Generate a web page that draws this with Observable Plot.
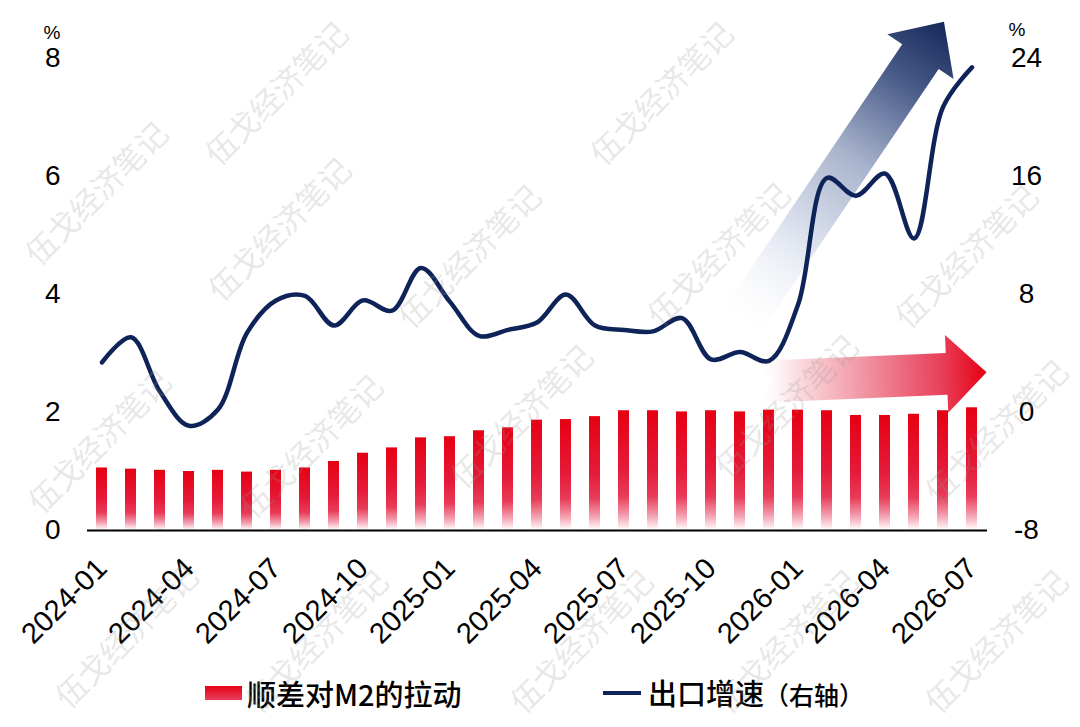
<!DOCTYPE html>
<html>
<head>
<meta charset="utf-8">
<script src="https://cdn.jsdelivr.net/npm/d3@7"></script>
<script src="https://cdn.jsdelivr.net/npm/@observablehq/plot@0.6"></script>
<style>
  html, body { margin: 0; padding: 0; background: #fff; }
  #wrap { position: relative; width: 1080px; height: 727px; overflow: hidden; background: #fff; }
  #legend { position: relative; width: 1080px; height: 62px; font-family: "Noto Sans CJK SC", sans-serif; color: #000; }
  .lg-item { position: absolute; display: flex; align-items: center; height: 40px; top: 8px; }
  .sw-bar { width: 37px; height: 14px; background: linear-gradient(#e60012, #e8405c); margin-right: 5px; }
  .sw-line { width: 38px; height: 4px; background: #0e2357; margin-right: 7px; }
  .lg-text { font-size: 29px; font-weight: 500; line-height: 40px; white-space: nowrap; }
  .lg-small { font-size: 25px; }
  #wm { position: absolute; left: 0; top: 0; width: 1080px; height: 727px; pointer-events: none; }
  .wm { position: absolute; font-family: "Noto Sans CJK SC", sans-serif; font-size: 31px; line-height: 1; color: rgba(150,150,150,0.24); white-space: nowrap; transform: translate(-50%, -50%) rotate(-45deg); }
</style>
</head>
<body>
<div id="wrap">
  <div id="chart"></div>
  <div id="legend">
    <div class="lg-item" style="left:205px"><div class="sw-bar"></div><span class="lg-text">顺差对M2的拉动</span></div>
    <div class="lg-item" style="left:603px"><div class="sw-line"></div><span class="lg-text">出口增速<span class="lg-small">（右轴）</span></span></div>
  </div>
  <div id="wm"></div>
</div>
<script>
// ---- data ----
const months = [
  "2024-01","2024-02","2024-03","2024-04","2024-05","2024-06","2024-07","2024-08","2024-09","2024-10","2024-11","2024-12",
  "2025-01","2025-02","2025-03","2025-04","2025-05","2025-06","2025-07","2025-08","2025-09","2025-10","2025-11","2025-12",
  "2026-01","2026-02","2026-03","2026-04","2026-05","2026-06","2026-07"
];
const tickLabels = ["2024-01","2024-04","2024-07","2024-10","2025-01","2025-04","2025-07","2025-10","2026-01","2026-04","2026-07"];
// 顺差对M2的拉动 (%, left axis)
const m2Pull = [1.06,1.04,1.02,1.00,1.02,0.99,1.02,1.06,1.17,1.31,1.40,1.57,1.59,1.69,1.74,1.87,1.88,1.93,2.03,2.03,2.01,2.03,2.01,2.04,2.04,2.03,1.95,1.95,1.97,2.03,2.08];
// 出口增速 (%, right axis)
const exportGrowth = [3.4,5.1,1.4,-0.9,0.2,5.4,7.6,7.9,5.9,7.6,6.9,9.8,7.5,5.2,5.6,6.1,8.0,5.9,5.6,5.5,6.4,3.6,4.1,3.5,7.3,15.9,14.7,16.2,11.8,20.7,23.4];
const leftTicks = [0, 2, 4, 6, 8];
const rightTicks = [-8, 0, 8, 16, 24];
// decorative arrows in data units: [month index, right-axis value]
const blueArrow = { from: [21.99, 5.9], to: [29.05, 26.45] };
const redArrow  = { from: [22.7, 2.05], to: [30.52, 2.7] };
const watermarkText = "伍戈经济笔记";
const watermarkAt = [[275,92],[660,92],[95,192],[278,228],[468,255],[717,253],[965,255],
                     [98,440],[310,445],[520,415],[785,405],[995,430],[125,635],[315,640],[580,640],[785,640],[995,640]];

// right axis (-8..24) mapped onto left axis (0..8)
const toLeft = v => (v + 8) / 4;

const data = months.map((m, i) => ({ month: m, pull: m2Pull[i], exp: exportGrowth[i] }));

const plot = Plot.plot({
  width: 1080,
  height: 665,
  marginLeft: 87,
  marginRight: 93,
  marginTop: 58,
  marginBottom: 135,
  style: { fontFamily: "'Liberation Sans', Arial, sans-serif", fontSize: "28px", color: "#000", background: "transparent" },
  x: { type: "band", domain: months, paddingInner: 0.62, paddingOuter: 0.3 },
  y: { domain: [0, 8] },
  marks: [
    Plot.barY(data, { x: "month", y: "pull", fill: "url(#barGrad)" }),
    Plot.ruleY([0], { stroke: "#000", strokeWidth: 2.2 }),
    Plot.line(data, { x: "month", y: d => toLeft(d.exp), stroke: "#0e2357", strokeWidth: 4.5, curve: "catmull-rom" }),
    Plot.axisY({ anchor: "left", label: null, ticks: leftTicks, tickSize: 0, tickPadding: 27, fontSize: 28, tickFormat: d => String(d) }),
    Plot.axisY({ anchor: "right", label: null, ticks: rightTicks.map(toLeft), tickSize: 0, tickPadding: 39, textAnchor: "middle", fontSize: 28,
                 tickFormat: d => String(Math.round(d * 4 - 8)) }),
    Plot.axisX({ label: null, ticks: tickLabels, tickRotate: -45, tickSize: 0, tickPadding: 33, fontSize: 29, dx: 0 }),
    Plot.text(["%"], { frameAnchor: "top-left", dx: -44, dy: -33, fontSize: 19, text: d => d }),
    Plot.text(["%"], { frameAnchor: "top-right", dx: 38, dy: -36, fontSize: 19, text: d => d })
  ]
});

document.getElementById("chart").appendChild(plot);

// gradients
const svg = d3.select(plot);
const defs = svg.insert("defs", ":first-child");
const bg = defs.append("linearGradient").attr("id", "barGrad").attr("x1", 0).attr("y1", 0).attr("x2", 0).attr("y2", 1);
[[0, "#e60012", 1], [0.5, "#e51b3a", 1], [0.72, "#e83c58", 1], [0.88, "#f3a0b0", 1], [1, "#ffffff", 1]]
  .forEach(([o, c, a]) => bg.append("stop").attr("offset", o).attr("stop-color", c).attr("stop-opacity", a));
const blg = defs.append("linearGradient").attr("id", "blueGrad").attr("x1", 0).attr("y1", 0).attr("x2", 1).attr("y2", 0);
[[0, "#ffffff", 0.2], [0.25, "#e6eaf3", 1], [0.55, "#a9b4cd", 1], [0.8, "#4a5c8a", 1], [1, "#16285a", 1]]
  .forEach(([o, c, a]) => blg.append("stop").attr("offset", o).attr("stop-color", c).attr("stop-opacity", a));
const rg = defs.append("linearGradient").attr("id", "redGrad").attr("x1", 0).attr("y1", 0).attr("x2", 1).attr("y2", 0);
[[0, "#ffffff", 0.3], [0.15, "#fbe0e4", 1], [0.5, "#f08a9a", 1], [0.8, "#e8405a", 1], [1, "#e60012", 1]]
  .forEach(([o, c, a]) => rg.append("stop").attr("offset", o).attr("stop-color", c).attr("stop-opacity", a));

// arrows positioned through the plot's scales
const xs = plot.scale("x"), ys = plot.scale("y");
const px = i => xs.apply(months[0]) + xs.bandwidth / 2 + i * xs.step;
const py = v => ys.apply(toLeft(v));
const lineNode = svg.select('g[aria-label="line"]').node();
const arrowsG = lineNode ? svg.insert("g", () => lineNode) : svg.append("g");
function drawArrow(a, w, hw, hl, notch, grad) {
  const x0 = px(a.from[0]), y0 = py(a.from[1]), x1 = px(a.to[0]), y1 = py(a.to[1]);
  const L = Math.hypot(x1 - x0, y1 - y0);
  const ang = Math.atan2(y1 - y0, x1 - x0) * 180 / Math.PI;
  const pts = [[0, -w / 2], [L - hl, -w / 2], [L - hl, -hw / 2], [L, 0], [L - hl, hw / 2], [L - hl, w / 2], [0, w / 2], [notch, 0]];
  arrowsG.append("polygon")
    .attr("points", pts.map(p => p.join(",")).join(" "))
    .attr("fill", `url(#${grad})`)
    .attr("transform", `translate(${x0},${y0}) rotate(${ang})`);
}
drawArrow(blueArrow, 44, 80, 42, 12, "blueGrad");
drawArrow(redArrow, 42, 78, 40, 12, "redGrad");

// watermark
const wm = document.getElementById("wm");
watermarkAt.forEach(([x, y]) => {
  const d = document.createElement("div");
  d.className = "wm";
  d.style.left = x + "px";
  d.style.top = y + "px";
  d.textContent = watermarkText;
  wm.appendChild(d);
});
</script>
</body>
</html>
